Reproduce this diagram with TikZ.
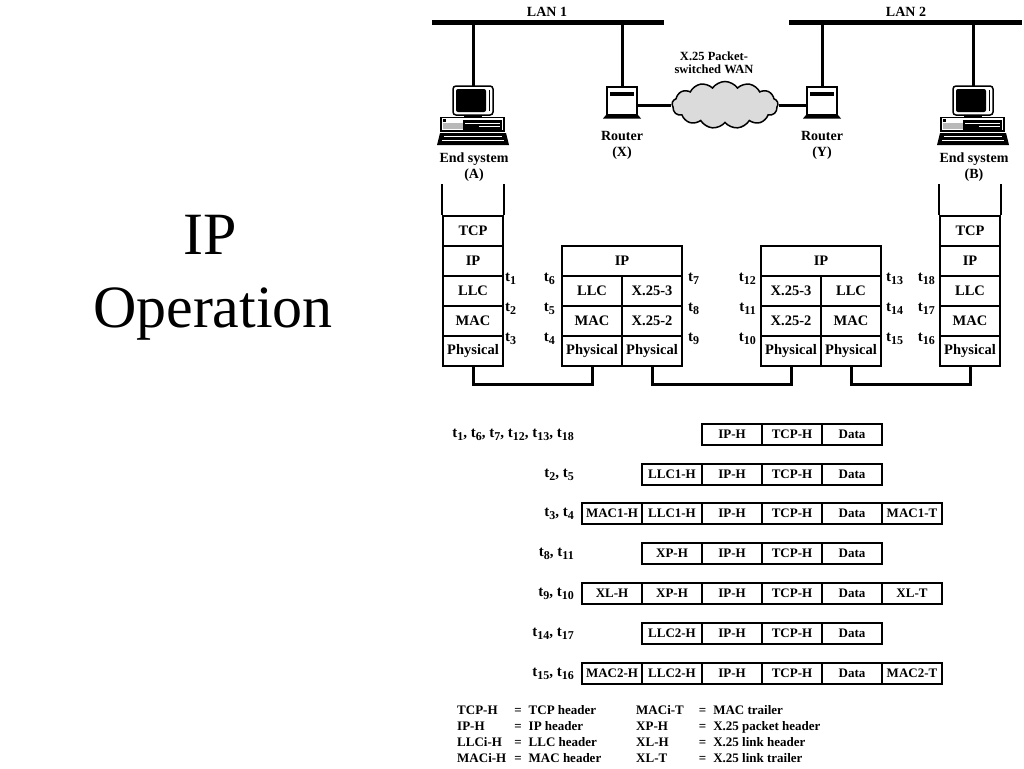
\documentclass[tikz,border=0pt]{standalone}
\usepackage{fontspec}
\setmainfont{Liberation Serif}
\usetikzlibrary{shapes.symbols}
\newcommand{\tsub}[1]{t\raisebox{-0.2em}{\fontsize{12}{12}\selectfont #1}}
\begin{document}
\begin{tikzpicture}[x=1pt,y=-1pt,
  lan/.style={line width=4.5pt},
  cable/.style={line width=3pt},
  stk/.style={draw, line width=2.3pt, minimum width=60pt, minimum height=30pt, inner sep=0pt, font=\fontsize{14.5}{16}\selectfont\bfseries},
  stkline/.style={line width=2.3pt},
  pcell/.style={draw, line width=2pt, minimum width=60pt, minimum height=21pt, inner sep=0pt, font=\fontsize{13}{14}\selectfont\bfseries},
  plbl/.style={inner sep=0pt, font=\fontsize{15}{16}\selectfont\bfseries},
  legf/.style={inner sep=0pt, font=\fontsize{13}{16}\selectfont\bfseries},
  tl/.style={inner sep=0pt, font=\fontsize{15}{16}\selectfont\bfseries},
  lbl/.style={inner sep=0pt, align=center, font=\fontsize{14}{16}\selectfont\bfseries},
  ttl/.style={inner sep=0pt, font=\fontsize{60}{72}\selectfont},
  computer/.pic={
    \node[draw, fill=white, line width=1.5pt, rounded corners=3pt, minimum width=40pt, minimum height=29pt, inner sep=0pt] (-mon) at (0,14.5) {};
    \fill[rounded corners=2pt] (-17,3) rectangle (13,26);
    \draw[line width=1pt] (16,4) -- (16,25);
    \fill (-9,29) rectangle (9,31.5);
    \draw[line width=1.2pt, fill=white] (-32,31.5) rectangle (31,45);
    \fill[gray!55] (-30,37) rectangle (-10,43);
    \fill (-30,33) rectangle (-27,36);
    \fill (-10,34) rectangle (29,43.5);
    \draw[white, line width=0.6pt] (-8,37.5) -- (27,37.5) (6,40) -- (27,40);
    \fill (-33,47) -- (33,47) -- (36,59) -- (-36,59) -- cycle;
    \draw[white, line width=0.8pt] (-29,50.5) -- (29,50.5) (-31,54) -- (31,54);
    \coordinate (-top) at (0,0);
  },
  router/.pic={
    \node[draw, fill=white, line width=2pt, minimum width=30pt, minimum height=28pt, inner sep=0pt] (-box) at (0,14) {};
    \fill (-12,5) rectangle (12,8.5);
    \fill (-16,28) -- (16,28) -- (19,31.5) -- (-19,31.5) -- cycle;
  }
]
\fill[white] (0,0) rectangle (1024,768);
\useasboundingbox (0,0) rectangle (1024,768);

% title
\node[ttl, anchor=base] (ttl1) at (210,254) {IP};
\node[ttl, anchor=base] (ttl2) at (213,327) {Operation};

% LANs
\coordinate (lan1a) at (432,22.5);
\coordinate (lan1b) at (664,22.5);
\coordinate (lan2a) at (789,22.5);
\coordinate (lan2b) at (1022,22.5);
\draw[lan] (lan1a) -- (lan1b);
\draw[lan] (lan2a) -- (lan2b);
\node[lbl] (lan1l) at (547,12) {LAN 1};
\node[lbl] (lan2l) at (906,12) {LAN 2};

% devices
\pic (pcA) at (473,86) {computer};
\pic (pcB) at (973,86) {computer};
\pic (rX) at (622,87) {router};
\pic (rY) at (822,87) {router};
\draw[cable] (pcA-top |- lan1a) -- (pcA-top);
\draw[cable] (rX-box.north |- lan1a) -- (rX-box.north);
\draw[cable] (rY-box.north |- lan2a) -- (rY-box.north);
\draw[cable] (pcB-top |- lan2a) -- (pcB-top);

\node[cloud, cloud puffs=13, cloud puff arc=110, aspect=2.3, draw, line width=1.5pt, fill=gray!28, minimum width=106pt, minimum height=47pt, inner sep=0pt] (wan) at (725,105) {};
\draw[cable] (rX-box.east |- wan.west) -- (wan.west);
\draw[cable] (wan.east) -- (rY-box.west |- wan.east);
\node[lbl, font=\fontsize{12.5}{13}\selectfont\bfseries] (wanl) at (714,62.5) {X.25 Packet-\\switched WAN};

\node[lbl] (pcAl) at (474,167) {End system\\(A)};
\node[lbl] (pcBl) at (974,167) {End system\\(B)};
\node[lbl] (rXl) at (622,145.5) {Router\\(X)};
\node[lbl] (rYl) at (822,145.5) {Router\\(Y)};

% stack A
\node[stk] (aTCP) at (473,231) {TCP};
\node[stk] (aIP) at (473,261) {IP};
\node[stk] (aLLC) at (473,291) {LLC};
\node[stk] (aMAC) at (473,321) {MAC};
\node[stk] (aPHY) at (473,351) {Physical};
\draw[stkline] (aTCP.north west) -- ++(0,-31);
\draw[stkline] (aTCP.north east) -- ++(0,-31);

% router X stack
\node[stk, minimum width=120pt] (xIP) at (622,261) {IP};
\node[stk] (xLLC) at (592,291) {LLC};
\node[stk] (xX3) at (652,291) {X.25-3};
\node[stk] (xMAC) at (592,321) {MAC};
\node[stk] (xX2) at (652,321) {X.25-2};
\node[stk] (xPHYl) at (592,351) {Physical};
\node[stk] (xPHYr) at (652,351) {Physical};

% router Y stack
\node[stk, minimum width=120pt] (yIP) at (821,261) {IP};
\node[stk] (yX3) at (791,291) {X.25-3};
\node[stk] (yLLC) at (851,291) {LLC};
\node[stk] (yX2) at (791,321) {X.25-2};
\node[stk] (yMAC) at (851,321) {MAC};
\node[stk] (yPHYl) at (791,351) {Physical};
\node[stk] (yPHYr) at (851,351) {Physical};

% stack B
\node[stk] (bTCP) at (970,231) {TCP};
\node[stk] (bIP) at (970,261) {IP};
\node[stk] (bLLC) at (970,291) {LLC};
\node[stk] (bMAC) at (970,321) {MAC};
\node[stk] (bPHY) at (970,351) {Physical};
\draw[stkline] (bTCP.north west) -- ++(0,-31);
\draw[stkline] (bTCP.north east) -- ++(0,-31);

% physical links
\draw[cable] (aPHY.south) -- ++(0,17) -| (xPHYl.south);
\draw[cable] (xPHYr.south) -- ++(0,17) -| (yPHYl.south);
\draw[cable] (yPHYr.south) -- ++(0,17) -| (bPHY.south);

% time labels
\node[tl, anchor=west] (t1) at (505,279) {\tsub{1}};
\node[tl, anchor=west] (t2) at (505,309) {\tsub{2}};
\node[tl, anchor=west] (t3) at (505,339) {\tsub{3}};
\node[tl, anchor=east] (t6) at (555,279) {\tsub{6}};
\node[tl, anchor=east] (t5) at (555,309) {\tsub{5}};
\node[tl, anchor=east] (t4) at (555,339) {\tsub{4}};
\node[tl, anchor=west] (t7) at (688,279) {\tsub{7}};
\node[tl, anchor=west] (t8) at (688,309) {\tsub{8}};
\node[tl, anchor=west] (t9) at (688,339) {\tsub{9}};
\node[tl, anchor=east] (t12) at (756,279) {\tsub{12}};
\node[tl, anchor=east] (t11) at (756,309) {\tsub{11}};
\node[tl, anchor=east] (t10) at (756,339) {\tsub{10}};
\node[tl, anchor=west] (t13) at (886,279) {\tsub{13}};
\node[tl, anchor=west] (t14) at (886,309) {\tsub{14}};
\node[tl, anchor=west] (t15) at (886,339) {\tsub{15}};
\node[tl, anchor=east] (t18) at (935,279) {\tsub{18}};
\node[tl, anchor=east] (t17) at (935,309) {\tsub{17}};
\node[tl, anchor=east] (t16) at (935,339) {\tsub{16}};

% packet formats
\node[plbl, anchor=east] (l1) at (574,435) {\tsub{1}, \tsub{6}, \tsub{7}, \tsub{12}, \tsub{13}, \tsub{18}};
\foreach \t [count=\c from 2] in {IP-H,TCP-H,Data}
  \node[pcell] (r1c\c) at ({612+60*\c},434.5) {\t};

\node[plbl, anchor=east] (l2) at (574,475) {\tsub{2}, \tsub{5}};
\foreach \t [count=\c from 1] in {LLC1-H,IP-H,TCP-H,Data}
  \node[pcell] (r2c\c) at ({612+60*\c},474.5) {\t};

\node[plbl, anchor=east] (l3) at (574,514) {\tsub{3}, \tsub{4}};
\foreach \t [count=\c from 0] in {MAC1-H,LLC1-H,IP-H,TCP-H,Data,MAC1-T}
  \node[pcell] (r3c\c) at ({612+60*\c},513.5) {\t};

\node[plbl, anchor=east] (l4) at (574,554) {\tsub{8}, \tsub{11}};
\foreach \t [count=\c from 1] in {XP-H,IP-H,TCP-H,Data}
  \node[pcell] (r4c\c) at ({612+60*\c},553.5) {\t};

\node[plbl, anchor=east] (l5) at (574,594) {\tsub{9}, \tsub{10}};
\foreach \t [count=\c from 0] in {XL-H,XP-H,IP-H,TCP-H,Data,XL-T}
  \node[pcell] (r5c\c) at ({612+60*\c},593.5) {\t};

\node[plbl, anchor=east] (l6) at (574,634) {\tsub{14}, \tsub{17}};
\foreach \t [count=\c from 1] in {LLC2-H,IP-H,TCP-H,Data}
  \node[pcell] (r6c\c) at ({612+60*\c},633.5) {\t};

\node[plbl, anchor=east] (l7) at (574,674) {\tsub{15}, \tsub{16}};
\foreach \t [count=\c from 0] in {MAC2-H,LLC2-H,IP-H,TCP-H,Data,MAC2-T}
  \node[pcell] (r7c\c) at ({612+60*\c},673.5) {\t};

% legend
\node[legf, anchor=base west] (leg1) at (457,714) {%
  \begin{tabular}[t]{@{}l@{\hspace{8pt}}l@{\hspace{7pt}}l@{}}
  TCP-H & = & TCP header\\
  IP-H & = & IP header\\
  LLCi-H & = & LLC header\\
  MACi-H & = & MAC header
  \end{tabular}};
\node[legf, anchor=base west] (leg2) at (636,714) {%
  \begin{tabular}[t]{@{}l@{\hspace{15pt}}l@{\hspace{7pt}}l@{}}
  MACi-T & = & MAC trailer\\
  XP-H & = & X.25 packet header\\
  XL-H & = & X.25 link header\\
  XL-T & = & X.25 link trailer
  \end{tabular}};
\end{tikzpicture}
\end{document}
